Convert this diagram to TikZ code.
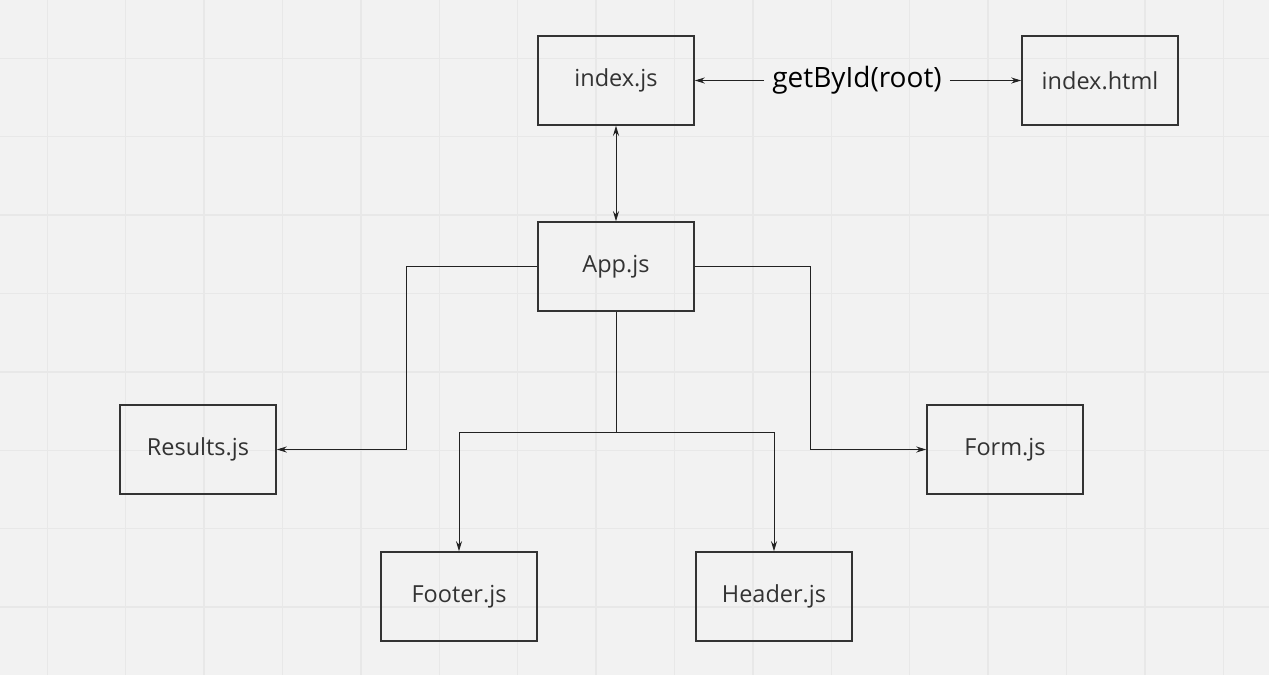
\documentclass[tikz,border=0pt]{standalone}
\usepackage{fontspec}
\setmainfont{Open Sans}
\usetikzlibrary{arrows.meta}
\definecolor{bg}{HTML}{F2F2F2}
\definecolor{gridc}{HTML}{E8E8E8}
\definecolor{boxc}{HTML}{333333}
\definecolor{linec}{HTML}{222222}
\definecolor{txt}{HTML}{333333}
\begin{document}
\begin{tikzpicture}[x=1pt,y=-1pt,
  box/.style={draw=boxc, line width=1.6pt, minimum width=156pt, minimum height=89pt, inner sep=0pt, font=\fontsize{23.5}{28}\selectfont, text=txt},
  conn/.style={draw=linec, line width=0.9pt, -{Stealth[length=10pt,width=6pt]}},
  plain/.style={draw=linec, line width=0.9pt}]
\fill[bg] (0,0) rectangle (1269,675);
\useasboundingbox (0,0) rectangle (1269,675);
\foreach \k in {0,...,15} \draw[gridc, line width=1.5pt] ({47.3+78.4*\k},0) -- ++(0,675);
\foreach \k in {0,...,7} \draw[gridc, line width=1.5pt] (0,{58.3+78.4*\k}) -- ++(1269,0);

\node[box] (idx) at (616,80.5) {\raisebox{-1.5pt}{index.js}};
\node[box] (html) at (1100,80.5) {\raisebox{-1.5pt}{index.html}};
\node[box] (app) at (616,266.5) {\raisebox{-1.5pt}{App.js}};
\node[box] (res) at (198,449.5) {\raisebox{-1.5pt}{Results.js}};
\node[box] (form) at (1005,449.5) {\raisebox{-1.5pt}{Form.js}};
\node[box] (foot) at (459,596.5) {\raisebox{-1.5pt}{Footer.js}};
\node[box] (head) at (774,596.5) {\raisebox{-1.5pt}{Header.js}};

\node[font=\fontsize{28}{32}\selectfont, text=black, inner xsep=8pt] (gb) at (857,80) {getById(root)};

\draw[conn] (gb.west |- idx.east) -- (idx.east);
\draw[conn] (gb.east |- html.west) -- (html.west);
\draw[plain, {Stealth[length=10pt,width=6pt]}-{Stealth[length=10pt,width=6pt]}] (idx.south) -- (app.north);
\draw[conn] (app.west) -- ++(-131,0) |- (res.east);
\draw[conn] (app.east) -- ++(116,0) |- (form.west);
\draw[plain] (app.south) -- ++(0,121) coordinate (j);
\draw[conn] (j) -| (foot.north);
\draw[conn] (j) -| (head.north);
\end{tikzpicture}
\end{document}
